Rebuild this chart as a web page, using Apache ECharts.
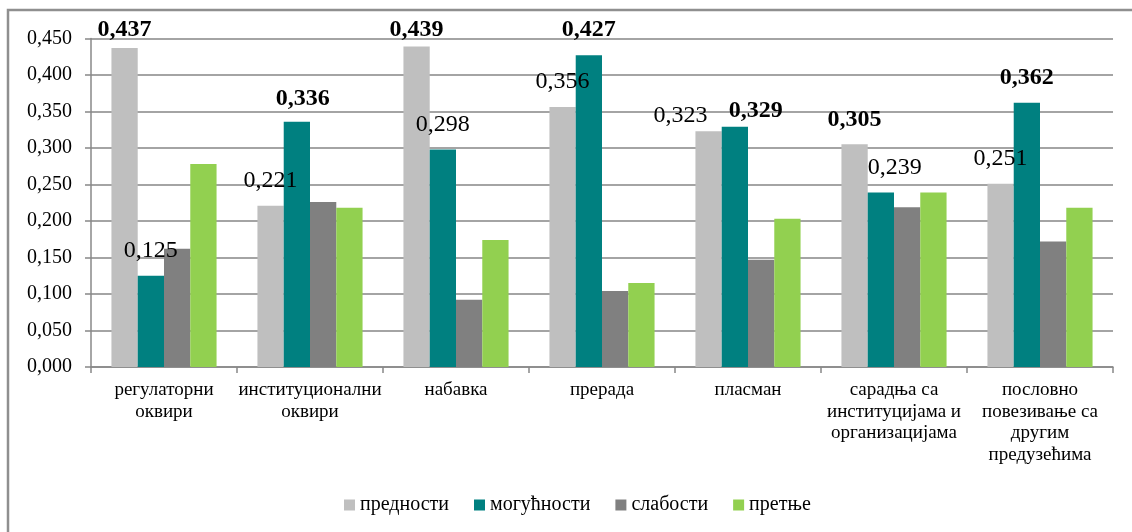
<!DOCTYPE html>
<html>
<head>
<meta charset="utf-8">
<script src="https://cdn.jsdelivr.net/npm/echarts@6/dist/echarts.min.js"></script>
<style>
html,body{margin:0;padding:0;background:#fff;}
#chart{width:1132px;height:532px;}
</style>
</head>
<body>
<div id="chart"></div>
<script>
const categories = ['регулаторни\nоквири','институционални\nоквири','набавка','прерада','пласман','сарадња са\nинституцијама и\nорганизацијама','пословно\nповезивање са\nдругим\nпредузећима'];
const seriesNames = ['предности','могућности','слабости','претње'];
const prednosti  = [0.437, 0.221, 0.439, 0.356, 0.323, 0.305, 0.251];
const mogucnosti = [0.125, 0.336, 0.298, 0.427, 0.329, 0.239, 0.362];
const slabosti   = [0.162, 0.226, 0.092, 0.104, 0.147, 0.219, 0.172];
const pretnje    = [0.278, 0.218, 0.174, 0.115, 0.203, 0.239, 0.218];
const colors = ['#BFBFBF','#008080','#808080','#92D050'];
const labeledSeries = [0, 1];
// label nudges [series, category, dx, dy]
const labelNudges = [[0,0,0,7],[0,2,0,8],[0,4,-28,9],[1,4,21,9],[1,5,14,0],[1,1,6,2]];

const all = [prednosti, mogucnosti, slabosti, pretnje];
const fmt = v => v.toFixed(3).replace('.', ',');

const series = all.map((arr, si) => ({
  name: seriesNames[si],
  type: 'bar',
  barGap: '0%',
  barCategoryGap: '28%',
  itemStyle: {color: colors[si]},
  data: arr.map((v, ci) => {
    if (!labeledSeries.includes(si)) return v;
    const maxC = Math.max(...all.map(a => a[ci]));
    const n = labelNudges.find(x => x[0] === si && x[1] === ci);
    return {
      value: v,
      label: {
        show: true, position: 'top', distance: 13,
        formatter: p => fmt(p.value),
        fontFamily: 'Liberation Serif', fontSize: 24, color: '#000',
        fontWeight: v === maxC ? 'bold' : 'normal',
        offset: n ? [n[2], n[3]] : [0, 0]
      }
    };
  })
}));

const chart = echarts.init(document.getElementById('chart'), null, {renderer: 'canvas'});
chart.setOption({
  animation: false,
  backgroundColor: '#fff',
  textStyle: {fontFamily: 'Liberation Serif'},
  graphic: [{
    type: 'rect', silent: true, z: -1,
    shape: {x: 8, y: 10, width: 1400, height: 800},
    style: {fill: 'none', stroke: '#8f8f8f', lineWidth: 2.5}
  }],
  grid: {left: 91, right: 19, top: 38.5, bottom: 165, containLabel: false},
  legend: {
    left: 339, top: 490,
    itemWidth: 11, itemHeight: 11, itemGap: 25,
    icon: 'rect',
    textStyle: {fontFamily: 'Liberation Serif', fontSize: 20, color: '#000'},
    data: seriesNames
  },
  xAxis: {
    type: 'category',
    data: categories,
    axisLine: {lineStyle: {color: '#888', width: 1.5}},
    axisTick: {show: true, length: 6, lineStyle: {color: '#888', width: 1.5}},
    axisLabel: {
      interval: 0, margin: 12, color: '#000',
      fontFamily: 'Liberation Serif', fontSize: 19, lineHeight: 21.7
    }
  },
  yAxis: {
    type: 'value', min: 0, max: 0.45, interval: 0.05,
    axisLine: {show: true, lineStyle: {color: '#888', width: 1.5}},
    axisTick: {show: true, length: 6, lineStyle: {color: '#888', width: 1.5}},
    splitLine: {lineStyle: {color: '#868686', width: 1.5}},
    axisLabel: {
      margin: 19, color: '#000',
      fontFamily: 'Liberation Serif', fontSize: 20,
      formatter: v => fmt(v)
    }
  },
  series: series
});
</script>
</body>
</html>
